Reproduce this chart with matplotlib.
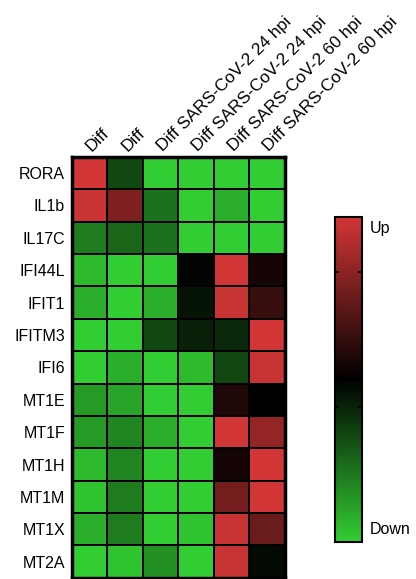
import matplotlib
matplotlib.use('Agg')
import matplotlib.pyplot as plt
from matplotlib.colors import LinearSegmentedColormap
from matplotlib.transforms import ScaledTranslation
import numpy as np

plt.rcParams['font.family'] = ['Liberation Sans', 'DejaVu Sans']

# Dados: -1 = Down (verde), 0 = preto, 1 = Up (vermelho)
genes = ['RORA', 'IL1b', 'IL17C', 'IFI44L', 'IFIT1', 'IFITM3', 'IFI6',
         'MT1E', 'MT1F', 'MT1H', 'MT1M', 'MT1X', 'MT2A']
conditions = ['Diff', 'Diff', 'Diff SARS-CoV-2 24 hpi', 'Diff SARS-CoV-2 24 hpi',
              'Diff SARS-CoV-2 60 hpi', 'Diff SARS-CoV-2 60 hpi']
values = [
    [1.00, -0.35, -1.00, -1.00, -1.00, -1.00],
    [0.95, 0.60, -0.55, -1.00, -0.85, -1.00],
    [-0.60, -0.50, -0.55, -1.00, -1.00, -1.00],
    [-0.90, -1.00, -1.00, -0.02, 1.00, 0.10],
    [-0.85, -1.00, -0.85, -0.10, 0.95, 0.25],
    [-1.00, -1.00, -0.35, -0.15, -0.20, 1.00],
    [-1.00, -0.85, -1.00, -0.90, -0.35, 0.95],
    [-0.75, -0.80, -1.00, -1.00, 0.15, 0.00],
    [-0.75, -0.65, -0.85, -1.00, 1.00, 0.70],
    [-0.90, -0.65, -1.00, -1.00, 0.10, 1.00],
    [-0.95, -0.60, -1.00, -1.00, 0.55, 1.00],
    [-0.85, -0.60, -1.00, -0.95, 0.95, 0.50],
    [-1.00, -0.95, -0.70, -1.00, 0.95, -0.05],
]
cbar_ticks = [-0.17, 0.66]

cmap = LinearSegmentedColormap.from_list('gkr', ['#32cd32', '#000000', '#d23535'])

fig = plt.figure(figsize=(4.16, 5.79), dpi=100)
ax = fig.add_axes([0.173, 0.002, 0.512, 0.727])

data = np.array(values)
mesh = ax.pcolormesh(data, cmap=cmap, vmin=-1, vmax=1, edgecolors='black', linewidth=1.4)
ax.set_xlim(0, data.shape[1])
ax.set_ylim(data.shape[0], 0)

ax.set_yticks(np.arange(len(genes)) + 0.5)
ax.set_yticklabels(genes, fontsize=11.5)
ax.set_xticks([])
ax.tick_params(axis='both', length=0)
ax.tick_params(axis='y', pad=5)

# column labels, rotated 45 degrees, nudged a few pixels right of the column centre
shift = ax.transData + ScaledTranslation(2 / 100, 5 / 100, fig.dpi_scale_trans)
for i, name in enumerate(conditions):
    ax.text(i + 0.5, 0, name, transform=shift, rotation=45, rotation_mode='anchor',
            ha='left', va='baseline', fontsize=12.4, clip_on=False)

for s in ax.spines.values():
    s.set_linewidth(2.5)

cax = fig.add_axes([0.805, 0.064, 0.065, 0.561])
cb = fig.colorbar(mesh, cax=cax, ticks=cbar_ticks)
cb.outline.set_linewidth(1.5)
cax.set_yticklabels(['', ''])
cax.tick_params(axis='y', direction='in', length=3, width=1.2, left=True, right=True)
cax.text(1.3, 0.966, 'Up', transform=cax.transAxes, va='center', ha='left', fontsize=11.5)
cax.text(1.3, 0.037, 'Down', transform=cax.transAxes, va='center', ha='left', fontsize=11.5)

fig.savefig('out.png', dpi=100)
plt.close(fig)
